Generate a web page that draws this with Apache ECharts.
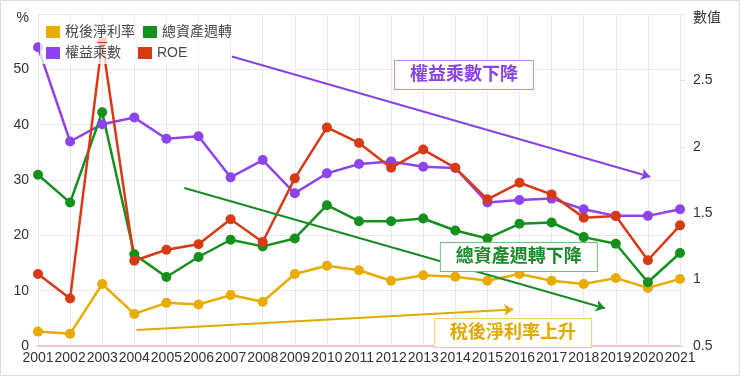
<!DOCTYPE html>
<html>
<head>
<meta charset="utf-8">
<script src="https://cdn.jsdelivr.net/npm/echarts@6/dist/echarts.min.js"></script>
<style>
  body { margin: 0; background: #fff; }
  #wrap { position: relative; width: 740px; height: 376px; }
  #chart { width: 740px; height: 376px; }
  #frame { position: absolute; left: 0; top: 0; right: 0; bottom: 0; border: 1px solid #dcdcdc; pointer-events: none; }
</style>
</head>
<body>
<div id="wrap">
  <div id="chart"></div>
  <div id="frame"></div>
</div>
<script>
// 年度
var years = ['2001', '2002', '2003', '2004', '2005', '2006', '2007', '2008', '2009', '2010',
  '2011', '2012', '2013', '2014', '2015', '2016', '2017', '2018', '2019', '2020', '2021'];

// 左軸 (%)
var netMargin = [2.6, 2.2, 11.2, 5.8, 7.8, 7.5, 9.2, 8.0, 13.0, 14.5, 13.7, 11.8, 12.8, 12.5, 11.8, 13.0, 11.8, 11.2, 12.3, 10.5, 12.1];
var roe = [13.0, 8.6, 55.0, 15.4, 17.4, 18.4, 22.9, 18.8, 30.3, 39.5, 36.7, 32.2, 35.5, 32.2, 26.5, 29.5, 27.4, 23.2, 23.5, 15.5, 21.8];

// 右軸 (數值)
var assetTurnover = [1.79, 1.58, 2.26, 1.19, 1.02, 1.17, 1.30, 1.25, 1.31, 1.56, 1.44, 1.44, 1.46, 1.37, 1.31, 1.42, 1.43, 1.32, 1.27, 0.98, 1.20];
var equityMultiplier = [2.75, 2.04, 2.17, 2.22, 2.06, 2.08, 1.77, 1.90, 1.65, 1.80, 1.87, 1.89, 1.85, 1.84, 1.58, 1.60, 1.61, 1.53, 1.48, 1.48, 1.53];

// 刻度
var leftTicks = { min: 0, max: 60, step: 10 };
var rightTicks = { min: 0.5, max: 3, step: 0.5 };

var FONT = "'Liberation Sans', 'Noto Sans CJK TC', sans-serif";
var C_NET = '#e8ab00', C_TURN = '#14901d', C_EQ = '#8d44ee', C_ROE = '#d93a16';

// 趨勢箭頭 / 標註 (x 為年度索引)
var eqArrow = [[6.04, 2.68], [19.07, 1.775]];
var turnArrow = [[4.56, 1.69], [17.66, 0.784]];
var netArrow = [[3.07, 2.9], [14.8, 6.6]];
var eqNote = [13.27, 2.54];
var turnNote = [14.98, 1.17];
var netNote = [14.8, 2.35];

function lineSeries(name, data, color, yIdx) {
  return {
    name: name, type: 'line', data: data, yAxisIndex: yIdx,
    symbol: 'circle', symbolSize: 10, showSymbol: true,
    lineStyle: { color: color, width: 2.5 },
    itemStyle: { color: color },
    emphasis: { disabled: true }
  };
}

function noteSeries(yIdx, arrow, note, text, color, border) {
  return {
    type: 'line', xAxisIndex: 1, yAxisIndex: yIdx, data: [], silent: true,
    markLine: {
      silent: true, animation: false,
      symbol: ['none', 'arrow'], symbolSize: 9,
      label: { show: false },
      lineStyle: { color: color, width: 2, type: 'solid' },
      emphasis: { disabled: true },
      data: [[{ coord: arrow[0] }, { coord: arrow[1] }]]
    },
    markPoint: {
      silent: true, animation: false,
      symbol: 'rect', symbolSize: 1,
      itemStyle: { color: 'rgba(0,0,0,0)' },
      label: {
        show: true, position: 'inside', formatter: text,
        color: color, fontSize: 18, fontWeight: 'bold', fontFamily: FONT,
        backgroundColor: '#fff', borderColor: border, borderWidth: 1,
        padding: [5, 15]
      },
      data: [{ coord: note }]
    }
  };
}

var legendText = { color: '#4a4a4a', fontSize: 14, fontFamily: FONT };

var chart = echarts.init(document.getElementById('chart'));
chart.setOption({
  animation: false,
  textStyle: { fontFamily: FONT },
  grid: { left: 38, right: 60, top: 14, bottom: 30 },
  legend: [
    {
      data: ['稅後淨利率', '總資產週轉'], left: 40, top: 21, itemGap: 8,
      itemWidth: 14, itemHeight: 12, icon: 'rect',
      padding: [4, 6, 3, 6], backgroundColor: 'rgba(255,255,255,0.75)',
      textStyle: legendText
    },
    {
      data: ['權益乘數', 'ROE'], left: 40, top: 43, itemGap: 17,
      itemWidth: 14, itemHeight: 12, icon: 'rect',
      padding: [3, 40, 4, 6], backgroundColor: 'rgba(255,255,255,0.75)',
      textStyle: legendText
    }
  ],
  xAxis: [
    {
      type: 'category', data: years, boundaryGap: false,
      axisLine: { lineStyle: { color: '#f2c6cf', width: 2 } },
      axisTick: { show: false },
      axisLabel: { interval: 0, color: '#333', fontSize: 14, margin: 5 },
      splitLine: { show: true, lineStyle: { color: '#e9e9e9' } }
    },
    { type: 'value', min: 0, max: 20, show: false }
  ],
  yAxis: [
    {
      type: 'value', min: leftTicks.min, max: leftTicks.max, interval: leftTicks.step,
      axisLine: { show: false }, axisTick: { show: false },
      axisLabel: {
        color: '#333', fontSize: 14, margin: 9,
        formatter: function (v) { return v === leftTicks.max ? '{u|%}' : v; },
        rich: { u: { fontSize: 14, color: '#333', padding: [8, 0, 0, 0] } }
      },
      splitLine: { lineStyle: { color: '#e9e9e9' } }
    },
    {
      type: 'value', min: rightTicks.min, max: rightTicks.max, interval: rightTicks.step,
      axisLine: { show: false },
      axisTick: { show: true, length: 5, lineStyle: { color: '#e3e3e3' } },
      axisLabel: {
        color: '#333', fontSize: 14, margin: 13,
        formatter: function (v) { return v === rightTicks.max ? '{u|數值}' : v; },
        rich: { u: { fontSize: 14, color: '#333', padding: [8, 0, 0, 0] } }
      },
      splitLine: { show: false }
    }
  ],
  series: [
    lineSeries('稅後淨利率', netMargin, C_NET, 0),
    lineSeries('權益乘數', equityMultiplier, C_EQ, 1),
    lineSeries('總資產週轉', assetTurnover, C_TURN, 1),
    lineSeries('ROE', roe, C_ROE, 0),
    noteSeries(1, eqArrow, eqNote, '權益乘數下降', '#8a42e6', '#b58ef0'),
    noteSeries(1, turnArrow, turnNote, '總資產週轉下降', '#1a8a2a', '#72bd80'),
    noteSeries(0, netArrow, netNote, '稅後淨利率上升', '#e3a800', '#f0cf6a')
  ]
});
</script>
</body>
</html>
